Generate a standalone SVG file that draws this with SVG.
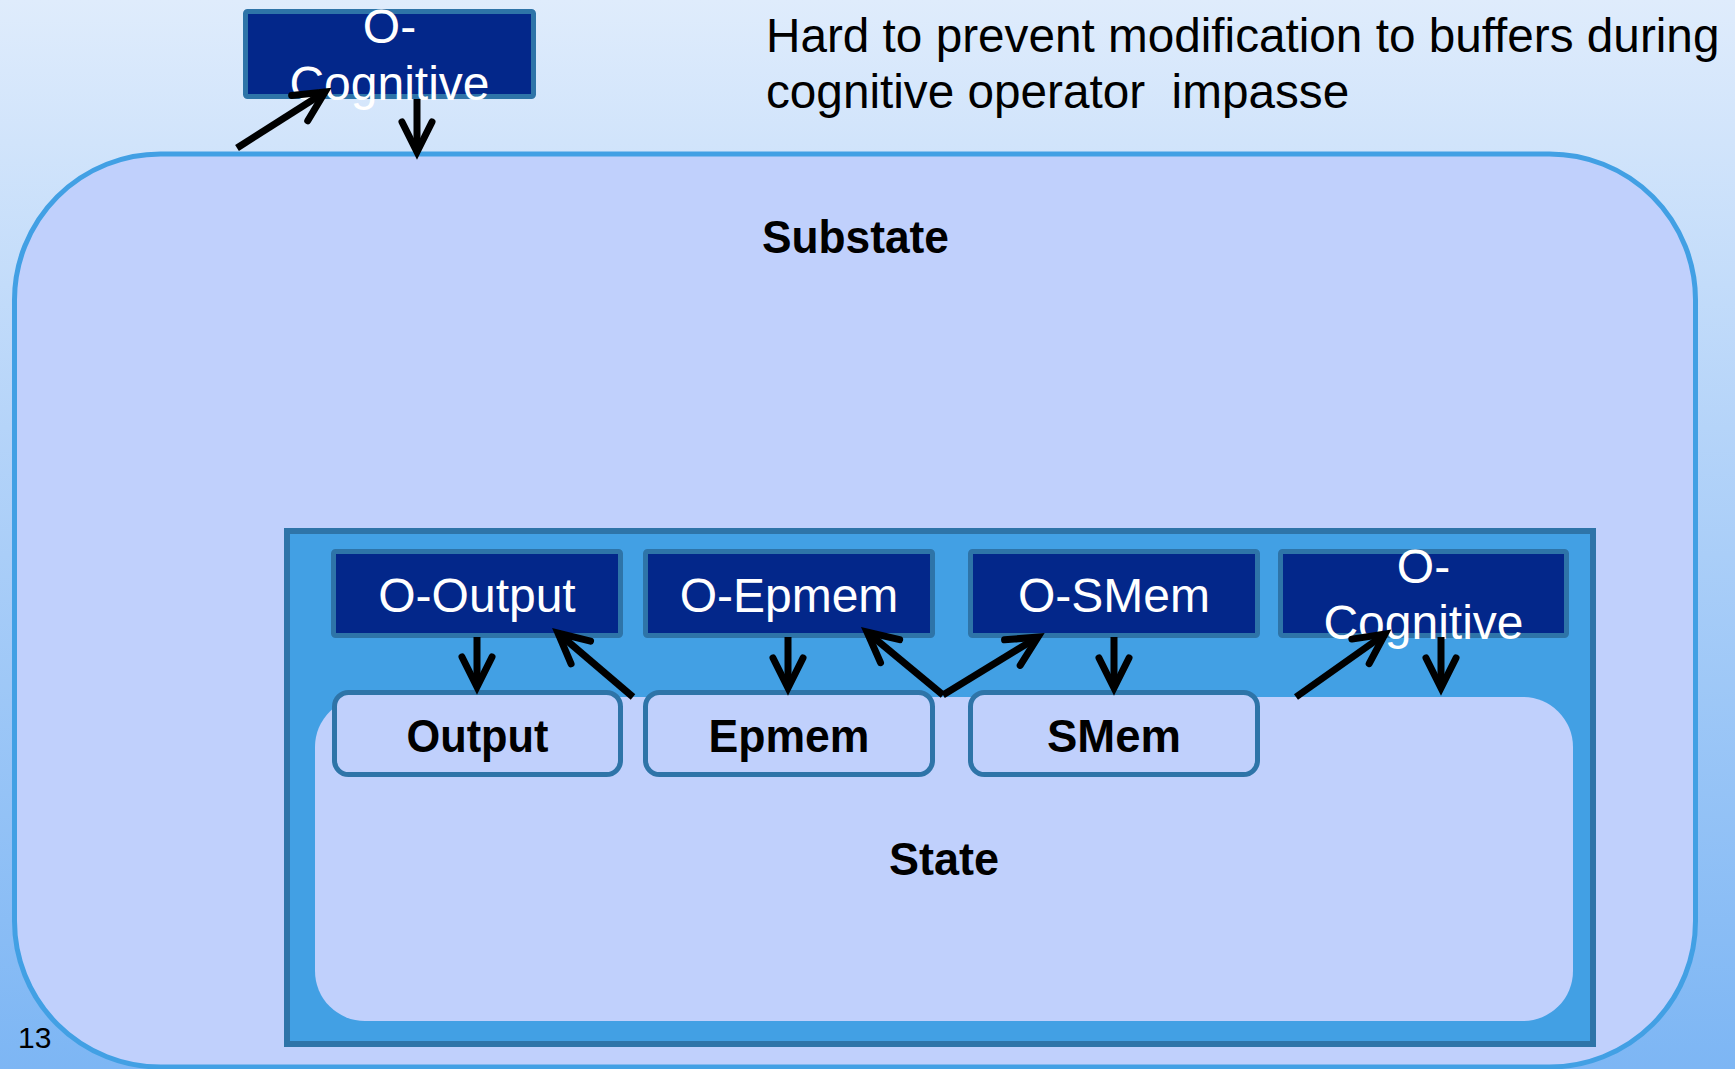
<svg xmlns="http://www.w3.org/2000/svg" width="1735" height="1069" viewBox="0 0 1735 1069">
<defs>
<linearGradient id="bg" x1="0" y1="0" x2="0" y2="1">
<stop offset="0" stop-color="#dfecfc"/>
<stop offset="0.4" stop-color="#b5d4f9"/>
<stop offset="1" stop-color="#7db6f4"/>
</linearGradient>
<marker id="ah" markerUnits="userSpaceOnUse" markerWidth="60" markerHeight="60" refX="0" refY="0" viewBox="-40 -30 60 60" orient="auto" overflow="visible">
<path d="M-30,-15 L0,0 L-30,15" fill="none" stroke="#000" stroke-width="7" stroke-linecap="round" stroke-linejoin="miter"/>
</marker>
</defs>
<style>
.op{fill:#03278a;stroke:#2e74a8;stroke-width:5}
.mem{fill:#c0d0fc;stroke:#2e74a8;stroke-width:5}
.wt{font-family:"Liberation Sans",Arial,sans-serif;font-size:48px;fill:#fff;text-anchor:middle}
.bt{font-family:"Liberation Sans",Arial,sans-serif;font-size:47px;font-weight:bold;fill:#000;text-anchor:middle}
.hd{font-family:"Liberation Sans",Arial,sans-serif;font-size:47.7px;fill:#000;white-space:pre}
.arr{stroke:#000;stroke-width:7;fill:none;marker-end:url(#ah)}
</style>
<rect x="0" y="0" width="1735" height="1069" fill="url(#bg)"/>
<g id="substate">
<rect x="14.5" y="154" width="1681" height="913" rx="146" ry="146" fill="#c0d0fc" stroke="#42a0e4" stroke-width="5"/>
<text class="bt" x="855.5" y="253" textLength="187" lengthAdjust="spacingAndGlyphs">Substate</text>
</g>
<g id="state">
<rect x="287" y="531" width="1306" height="513" fill="#42a0e4" stroke="#2e74a8" stroke-width="6"/>
<rect x="315" y="697" width="1258" height="324" rx="50" ry="50" fill="#c0d0fc"/>
<text class="bt" x="944" y="875" textLength="110" lengthAdjust="spacingAndGlyphs">State</text>
</g>
<g id="o-cognitive-top">
<rect class="op" x="245.5" y="11.5" width="288" height="85" rx="2"/>
<text class="wt" x="389.5" y="43">O-</text>
<text class="wt" x="389.5" y="100">Cognitive</text>
</g>
<g id="o-output">
<rect class="op" x="333.5" y="551.5" width="287" height="84" rx="2"/>
<text class="wt" x="477" y="612">O-Output</text>
</g>
<g id="o-epmem">
<rect class="op" x="645.5" y="551.5" width="287" height="84" rx="2"/>
<text class="wt" x="789" y="612">O-Epmem</text>
</g>
<g id="o-smem">
<rect class="op" x="970.5" y="551.5" width="287" height="84" rx="2"/>
<text class="wt" x="1114" y="612">O-SMem</text>
</g>
<g id="o-cognitive">
<rect class="op" x="1280.5" y="551.5" width="286" height="84" rx="2"/>
<text class="wt" x="1423.5" y="583">O-</text>
<text class="wt" x="1423.5" y="639">Cognitive</text>
</g>
<g id="output">
<rect class="mem" x="334.5" y="692.5" width="286" height="82" rx="14"/>
<text class="bt" x="477.5" y="752" textLength="142" lengthAdjust="spacingAndGlyphs">Output</text>
</g>
<g id="epmem">
<rect class="mem" x="645.5" y="692.5" width="287" height="82" rx="14"/>
<text class="bt" x="789" y="752" textLength="161" lengthAdjust="spacingAndGlyphs">Epmem</text>
</g>
<g id="smem">
<rect class="mem" x="970.5" y="692.5" width="287" height="82" rx="14"/>
<text class="bt" x="1114" y="752" textLength="134" lengthAdjust="spacingAndGlyphs">SMem</text>
</g>
<g id="connectors">
<line class="arr" x1="237" y1="148" x2="325" y2="92"/>
<line class="arr" x1="417" y1="99" x2="417" y2="152"/>
<line class="arr" x1="477" y1="637" x2="477" y2="687"/>
<line class="arr" x1="633" y1="697" x2="558" y2="633"/>
<line class="arr" x1="788" y1="637" x2="788" y2="688"/>
<line class="arr" x1="943" y1="695" x2="867" y2="632"/>
<line class="arr" x1="943" y1="695" x2="1038" y2="637"/>
<line class="arr" x1="1114" y1="637" x2="1114" y2="688"/>
<line class="arr" x1="1296" y1="697" x2="1385" y2="634"/>
<line class="arr" x1="1441" y1="637" x2="1441" y2="688"/>
</g>
<g id="header">
<text class="hd" x="766" y="52">Hard to prevent modification to buffers during</text>
<text class="hd" x="766" y="108">cognitive operator  impasse</text>
</g>
<text x="18" y="1048" font-family="Liberation Sans, Arial, sans-serif" font-size="30" fill="#000">13</text>
</svg>
